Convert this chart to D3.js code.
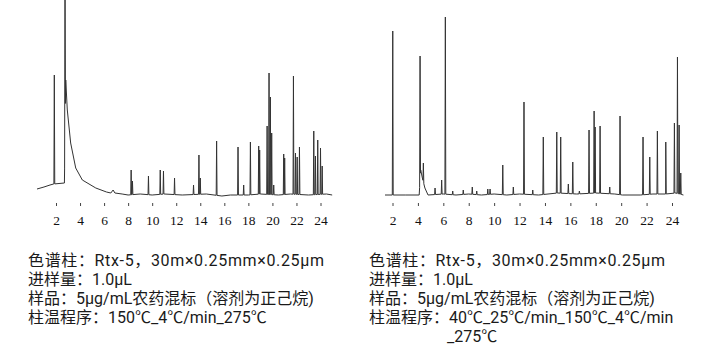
<!DOCTYPE html>
<html lang="zh">
<head>
<meta charset="UTF-8">
<title>农药混标色谱图</title>
<style>
  body { margin: 0; background: #fff; }
  .trace { fill: none; stroke: #333; stroke-width: 1; }
  .tick line { stroke: #444; }
  .tick text { font-family: "Liberation Serif", serif; font-size: 13.5px; fill: #111; }
  .note { font-family: Roboto, "Noto Sans CJK SC", sans-serif; font-size: 16px; fill: #1a1a1a; }
</style>
</head>
<body>
<svg width="714" height="351"></svg>
<script src="https://d3js.org/d3.v7.min.js"></script>
<script>
const tickValues = [2, 4, 6, 8, 10, 12, 14, 16, 18, 20, 22, 24];

// left run: 150℃ start. baseline [min, response], peaks [min, apex]
const leftBase = [[0.42, 7], [1.0, 9], [1.5, 11], [1.8, 12], [2.7, 13], [2.81, 116], [2.94, 86],
  [3.22, 53], [3.64, 28], [4.19, 16], [5.31, 8], [6.2, 4], [6.56, 3], [6.75, 6], [6.9, 3],
  [7.5, 2], [8.0, 1], [9.0, 2], [10.0, 1], [11.0, 2], [12.5, 1], [14.5, 2], [15.8, 0],
  [16.5, 1], [18.0, 1], [19.0, 2], [20.5, 1], [21.5, 2], [23.0, 1], [24.5, 2], [24.97, 1]];
const leftPeaks = [[1.86, 121], [2.75, 230], [8.25, 26], [8.36, 15], [9.69, 20], [10.67, 26],
  [10.94, 25], [11.86, 18], [13.44, 11], [13.89, 41], [14.0, 18], [15.36, 55], [17.14, 49],
  [17.61, 11], [18.17, 54], [18.86, 50], [18.94, 46], [19.56, 70], [19.72, 123], [19.83, 99],
  [19.94, 63], [20.11, 11], [20.94, 42], [21.02, 38], [21.75, 120], [21.92, 43], [22.06, 39],
  [22.25, 49], [23.44, 65], [23.58, 40], [23.77, 56], [24.0, 48], [24.14, 30]];

// right run: 40℃ start
const rightBase = [[1.41, 1], [3.0, 1], [4.1, 1], [4.22, 26], [4.35, 18], [4.55, 8], [4.69, 4],
  [4.8, 1], [6.0, 2], [7.0, 1], [8.0, 2], [9.0, 1], [10.0, 2], [11.0, 1], [12.0, 2], [13.5, 1],
  [15.0, 3], [16.5, 2], [18.0, 3], [19.5, 2], [20.1, 1], [21.5, 1], [22.5, 2], [23.5, 2],
  [24.3, 3], [24.9, 1]];
const rightPeaks = [[2.02, 165], [4.17, 140], [4.43, 33], [5.35, 8], [5.87, 16], [6.16, 179],
  [6.74, 5], [7.57, 6], [8.28, 9], [8.63, 5], [9.5, 7], [9.68, 7], [10.68, 31], [11.51, 9],
  [12.35, 94], [13.04, 6], [13.87, 59], [14.93, 64], [15.24, 59], [15.84, 12], [16.19, 34],
  [16.71, 5], [17.47, 66], [17.87, 85], [17.95, 69], [18.34, 70], [19.1, 9], [19.91, 80],
  [21.72, 59], [22.25, 39], [22.85, 65], [23.51, 54], [24.19, 73], [24.43, 139], [24.56, 71],
  [24.69, 23]];

const leftNotes = ["色谱柱：Rtx-5，30m×0.25mm×0.25μm", "进样量：1.0μL",
  "样品：5μg/mL农药混标（溶剂为正己烷)", "柱温程序：150℃_4℃/min_275℃"];
const rightNotes = ["色谱柱：Rtx-5，30m×0.25mm×0.25μm", "进样量：1.0μL",
  "样品：5μg/mL农药混标（溶剂为正己烷)", "柱温程序：40℃_25℃/min_150℃_4℃/min", "_275℃"];

const svg = d3.select("svg");
const y = d3.scaleLinear().domain([0, 196]).range([196, 0]);

function chromatogram(base, peaks, x) {
  const bt = base.map(d => d[0]), bv = base.map(d => d[1]);
  const baseAt = t => {
    const i = Math.min(Math.max(d3.bisectLeft(bt, t), 1), bt.length - 1);
    const k = (t - bt[i - 1]) / (bt[i] - bt[i - 1]);
    return bv[i - 1] + k * (bv[i] - bv[i - 1]);
  };
  const w = 0.035;
  let pts = base.slice();
  peaks.forEach(([t, h]) => {
    pts.push([t - w, baseAt(t - w)], [t, h], [t + w, baseAt(t + w)]);
  });
  pts.sort((a, b) => a[0] - b[0]);
  svg.append("path").attr("class", "trace")
    .attr("d", d3.line().x(d => x(d[0])).y(d => y(d[1]))(pts));

  const ax = svg.append("g").attr("transform", "translate(0,203)")
    .call(d3.axisBottom(x).tickValues(tickValues).tickSize(3).tickPadding(9));
  ax.select(".domain").remove();
}

chromatogram(leftBase, leftPeaks, d3.scaleLinear().domain([2, 24]).range([56, 320.5]));
chromatogram(rightBase, rightPeaks, d3.scaleLinear().domain([2, 24]).range([392.5, 672]));

// one text block per run, lines as tspans
function notes(lines, x0) {
  svg.append("text").attr("class", "note")
    .selectAll("tspan").data(lines).join("tspan")
    .attr("x", (d, i) => i === 4 ? x0 + 78 : x0)
    .attr("y", (d, i) => 265.5 + i * 19)
    .attr("letter-spacing", (d, i) => i === 0 ? 0.65 : null)
    .text(d => d);
}
notes(leftNotes, 28);
notes(rightNotes, 369);
</script>
</body>
</html>
